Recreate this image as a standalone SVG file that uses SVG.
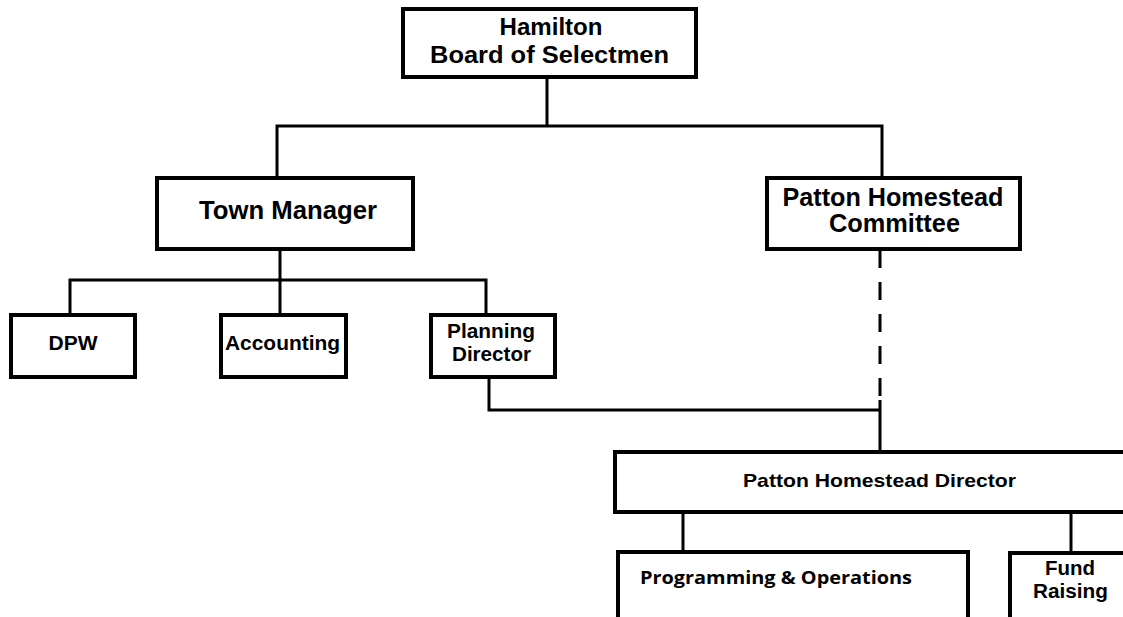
<svg xmlns="http://www.w3.org/2000/svg" width="1123" height="617" viewBox="0 0 1123 617">
<style>
.box{fill:#fff;stroke:#000;stroke-width:4}
.t{font-family:"Liberation Sans",Arial,sans-serif;font-weight:bold;fill:#000;text-anchor:middle}
.c{font-family:"Open Sans","Noto Sans",sans-serif;font-weight:bold;fill:#000}
.ln{fill:none;stroke:#000;stroke-width:3}
</style>
<rect width="1123" height="617" fill="#fff"/>
<g id="connectors">
<polyline class="ln" points="547,77 547,126"/>
<polyline class="ln" points="277,178 277,126 882,126 882,178"/>
<polyline class="ln" points="280,249 280,315"/>
<polyline class="ln" points="70,315 70,280 486,280 486,315"/>
<polyline class="ln" points="489,377 489,410 880,410"/>
<line class="ln" x1="880" y1="250" x2="880" y2="400" stroke-dasharray="18,14"/>
<line class="ln" x1="880" y1="400" x2="880" y2="452"/>
<line class="ln" x1="683" y1="512" x2="683" y2="552"/>
<line class="ln" x1="1071" y1="510" x2="1071" y2="553"/>
</g>
<g id="board">
<rect class="box" x="403" y="9" width="293" height="68"/>
<text class="t" x="551" y="35" font-size="24" textLength="103" lengthAdjust="spacingAndGlyphs">Hamilton</text>
<text class="t" x="549.5" y="63" font-size="24" textLength="239" lengthAdjust="spacingAndGlyphs">Board of Selectmen</text>
</g>
<g id="town-manager">
<rect class="box" x="157" y="178" width="256" height="71"/>
<text class="t" x="288" y="219" font-size="25" textLength="178" lengthAdjust="spacingAndGlyphs">Town Manager</text>
</g>
<g id="patton-committee">
<rect class="box" x="767" y="178" width="253" height="71"/>
<text class="t" x="893" y="206" font-size="25" textLength="221" lengthAdjust="spacingAndGlyphs">Patton Homestead</text>
<text class="t" x="894.5" y="232" font-size="25" textLength="131" lengthAdjust="spacingAndGlyphs">Committee</text>
</g>
<g id="dpw">
<rect class="box" x="11" y="315" width="124" height="62"/>
<text class="t" x="73" y="350" font-size="20" textLength="49" lengthAdjust="spacingAndGlyphs">DPW</text>
</g>
<g id="accounting">
<rect class="box" x="221" y="315" width="125" height="62"/>
<text class="t" x="282.5" y="350" font-size="20" textLength="115" lengthAdjust="spacingAndGlyphs">Accounting</text>
</g>
<g id="planning-director">
<rect class="box" x="431" y="315" width="124" height="62"/>
<text class="t" x="491" y="338" font-size="20" textLength="88" lengthAdjust="spacingAndGlyphs">Planning</text>
<text class="t" x="491.5" y="361" font-size="20" textLength="79" lengthAdjust="spacingAndGlyphs">Director</text>
</g>
<g id="patton-director">
<rect class="box" x="615" y="452" width="520" height="60"/>
<text class="t" x="879.5" y="487" font-size="19" textLength="273" lengthAdjust="spacingAndGlyphs">Patton Homestead Director</text>
</g>
<g id="programming">
<rect class="box" x="618" y="552" width="350" height="80"/>
<text class="c" x="640" y="584" font-size="18" textLength="272" lengthAdjust="spacingAndGlyphs">Programming &amp; Operations</text>
</g>
<g id="fund-raising">
<rect class="box" x="1010" y="553" width="125" height="80"/>
<text class="t" x="1070" y="575" font-size="20" textLength="50" lengthAdjust="spacingAndGlyphs">Fund</text>
<text class="t" x="1070.5" y="598" font-size="20" textLength="75" lengthAdjust="spacingAndGlyphs">Raising</text>
</g>
</svg>
